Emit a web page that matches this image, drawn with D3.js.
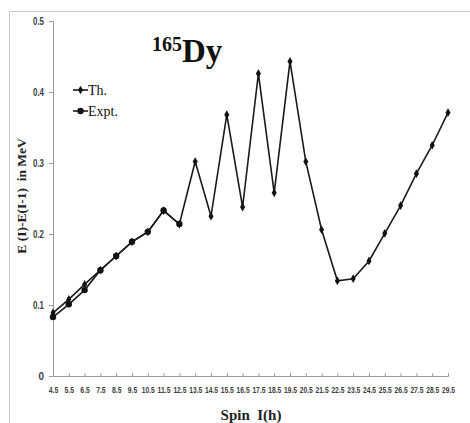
<!DOCTYPE html>
<html><head><meta charset="utf-8">
<script src="https://cdn.jsdelivr.net/npm/d3@7/dist/d3.min.js"></script>
<style>body{margin:0;background:#fff}svg{display:block}</style>
</head><body>
<svg id="c" width="470" height="423"></svg>
<script>
const spins = ["4.5","5.5","6.5","7.5","8.5","9.5","10.5","11.5","12.5","13.5","14.5","15.5","16.5","17.5","18.5","19.5","20.5","21.5","22.5","23.5","24.5","25.5","26.5","27.5","28.5","29.5"];
const theory = [0.089,0.108,0.129,0.149,0.169,0.189,0.203,0.233,0.214,0.302,0.225,0.368,0.238,0.426,0.258,0.443,0.302,0.206,0.134,0.137,0.162,0.201,0.240,0.285,0.325,0.371];
const exptSpins = ["4.5","5.5","6.5","7.5","8.5","9.5","10.5","11.5","12.5"];
const expt = [0.083,0.101,0.121,0.149,0.169,0.189,0.203,0.233,0.214];
const yTicks = [0,0.1,0.2,0.3,0.4,0.5];

const svg = d3.select("#c");
svg.append("rect").attr("x",9.5).attr("y",11.5).attr("width",480).attr("height",430)
  .attr("fill","none").attr("stroke","#c8c8c8");

const x = d3.scalePoint().domain(spins).range([53,448]).padding(0);
const y = d3.scaleLinear().domain([0,0.5]).range([376,21]);

// y axis
const ya = svg.append("g").attr("transform","translate(53,0)")
  .call(d3.axisLeft(y).tickValues(yTicks).tickSize(4).tickFormat(d=>d===0?"0":d3.format(".1f")(d)));
ya.select(".domain").attr("stroke","#9a9a9a");
ya.selectAll(".tick line").attr("stroke","#9a9a9a");
ya.selectAll(".tick text").attr("font-family","'Liberation Sans',Arial,sans-serif")
  .attr("font-size",10).attr("font-weight","bold").attr("fill","#404040").attr("x",-9)
  .attr("textLength",d=>d===0?5.5:11).attr("lengthAdjust","spacingAndGlyphs");

// x axis
const xa = svg.append("g").attr("transform","translate(0,376)")
  .call(d3.axisBottom(x).tickSize(-3).tickPadding(11));
xa.select(".domain").attr("stroke","#9a9a9a");
xa.selectAll(".tick line").attr("stroke","#9a9a9a");
xa.selectAll(".tick text").attr("font-family","'Liberation Sans',Arial,sans-serif")
  .attr("font-size",8.5).attr("font-weight","bold").attr("fill","#404040")
  .attr("textLength",d=>d.length>3?13:9.5).attr("lengthAdjust","spacingAndGlyphs");

// lines
const line = d3.line().x(d=>x(d[0])).y(d=>y(d[1]));
const thData = spins.map((s,i)=>[s,theory[i]]);
const exData = exptSpins.map((s,i)=>[s,expt[i]]);
svg.append("path").datum(exData).attr("d",line).attr("fill","none").attr("stroke","#1a1a1a").attr("stroke-width",1.6);
svg.append("path").datum(thData).attr("d",line).attr("fill","none").attr("stroke","#1a1a1a").attr("stroke-width",1.6);

svg.selectAll(".ex").data(exData).enter().append("circle")
  .attr("cx",d=>x(d[0])).attr("cy",d=>y(d[1])).attr("r",3.2).attr("fill","#111");
const dia = d3.symbol().type(d3.symbolDiamond).size(22);
svg.selectAll(".th").data(thData).enter().append("path")
  .attr("d",dia).attr("transform",d=>`translate(${x(d[0])},${y(d[1])})`).attr("fill","#111");

// legend
const lg = svg.append("g");
[["Th.",90,"th"],["Expt.",111,"ex"]].forEach(([t,ly,k])=>{
  lg.append("line").attr("x1",73).attr("x2",88).attr("y1",ly).attr("y2",ly).attr("stroke","#1a1a1a").attr("stroke-width",1.6);
  if(k==="th") lg.append("path").attr("d",dia).attr("transform",`translate(80.5,${ly})`).attr("fill","#111");
  else lg.append("circle").attr("cx",80.5).attr("cy",ly).attr("r",3.2).attr("fill","#111");
  lg.append("text").attr("x",88).attr("y",ly+4.5).attr("font-family","'Liberation Serif','Times New Roman',serif")
    .attr("font-size",14).attr("fill","#111").text(t);
});

// title
const tt = svg.append("text").attr("x",152).attr("y",62).attr("font-family","'Liberation Serif','Times New Roman',serif")
  .attr("font-weight","bold").attr("fill","#111");
tt.append("tspan").attr("font-size",20).attr("dy",-11).text("165");
tt.append("tspan").attr("font-size",33).attr("dy",11).text("Dy");

// axis titles
svg.append("text").attr("transform","translate(26,196) rotate(-90)").attr("text-anchor","middle")
  .attr("font-family","'Liberation Serif','Times New Roman',serif").attr("font-weight","bold")
  .attr("font-size",13.5).attr("fill","#222").attr("xml:space","preserve").text("E (I)-E(I-1)  in MeV");
svg.append("text").attr("x",251).attr("y",420).attr("text-anchor","middle")
  .attr("font-family","'Liberation Serif','Times New Roman',serif").attr("font-weight","bold")
  .attr("font-size",15).attr("fill","#222").attr("xml:space","preserve").text("Spin  I(h)");
</script>
</body></html>
